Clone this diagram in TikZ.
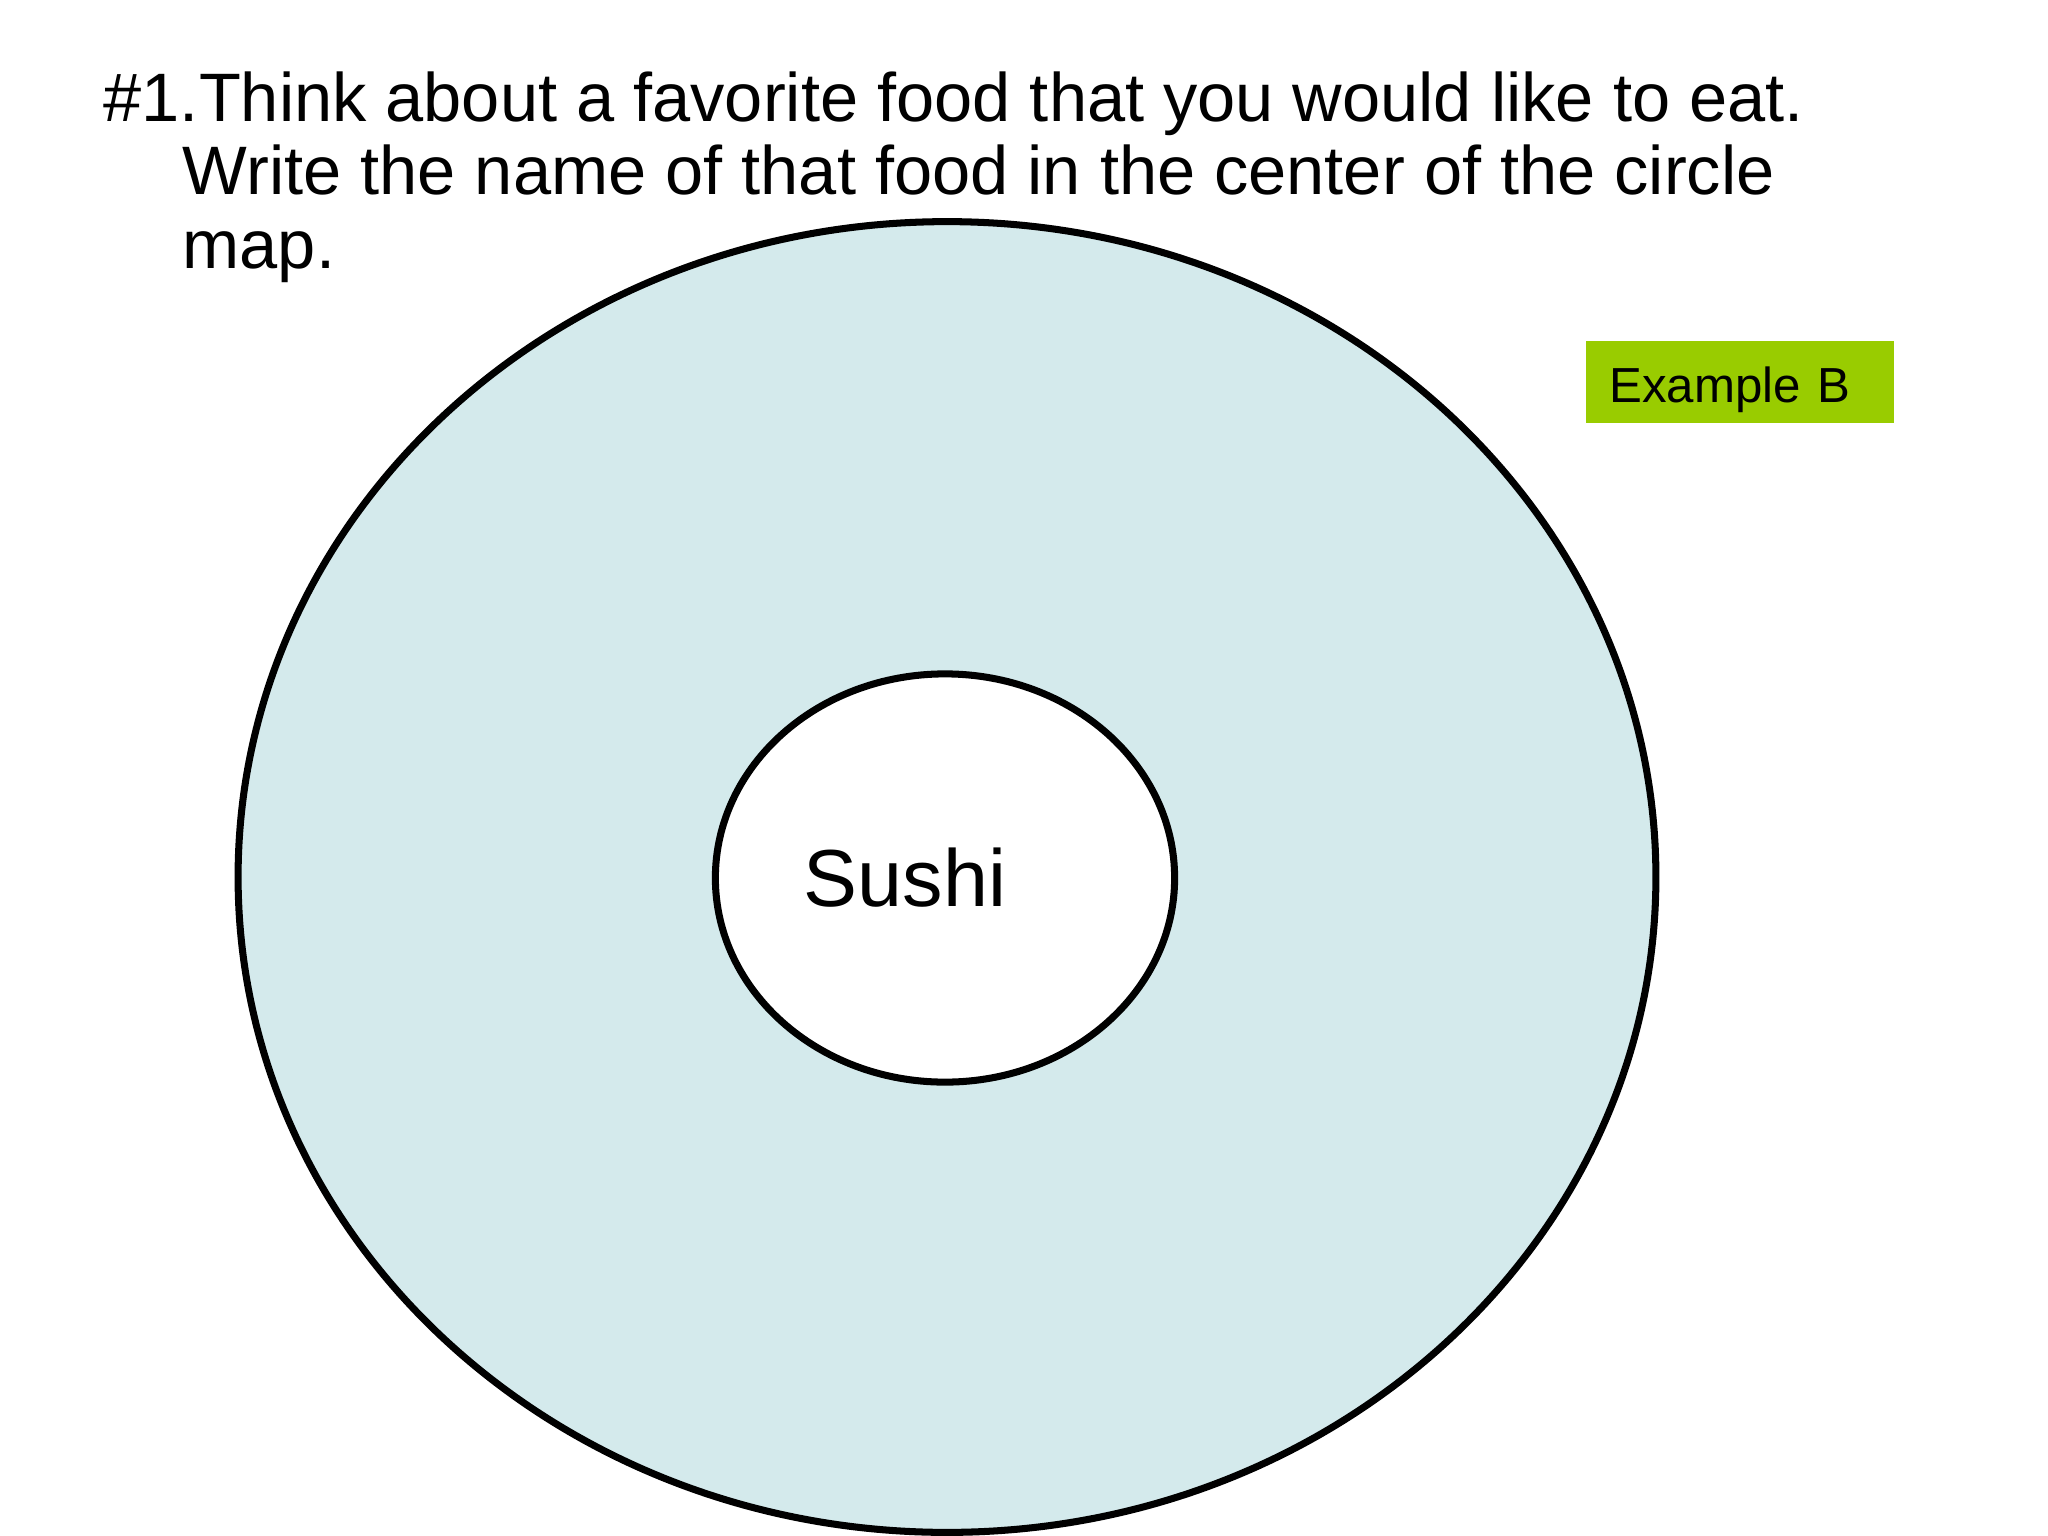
\documentclass[tikz,border=0pt]{standalone}
\usepackage{fontspec}
\setmainfont{Liberation Sans}
\usepackage{xcolor}
\usetikzlibrary{shapes.geometric, positioning}
\definecolor{mapblue}{HTML}{D4EAEC}
\definecolor{taggreen}{HTML}{99CC00}
\tikzstyle{outer} = [ellipse, 
minimum width=14.17cm, 
minimum height=13.10cm, 
draw=black, 
line width=2pt, 
fill=mapblue]
\tikzstyle{inner} = [ellipse, 
minimum width=4.59cm, 
minimum height=4.08cm, 
draw=black, 
line width=2pt, 
fill=white]
\tikzstyle{tag} = [rectangle, 
minimum width=3.07cm, 
minimum height=0.81cm, 
inner xsep=0.23cm, 
text width=2.61cm, 
text height=11.5pt, 
text depth=0pt, 
align=left, 
fill=taggreen, 
font=\fontsize{14}{16}\selectfont]
\tikzstyle{dish} = [inner sep=0pt, 
font=\fontsize{23}{27}\selectfont]
\tikzstyle{task} = [anchor=north west, 
inner sep=0pt, 
align=left, 
font=\fontsize{19.5}{20.9}\selectfont]

\begin{document}
\begin{tikzpicture}[x=0.01cm, y=-0.01cm]
  \useasboundingbox (0,0) rectangle (2048,1536);

  \node (frame) [outer] at (947,877) {};
  \node (center) [inner] at (945,878) {};
  \node (food) [dish] at ([xshift=-0.4cm]center) {Sushi};

  \node (tag) [tag] at (1740,382) {Example B};

  \node (task) [task] at (103,71) {\#1.Think about a favorite food that you would like to eat.\\
    \hspace*{0.79cm}Write the name of that food in the center of the circle\\
    \hspace*{0.79cm}map.};

\end{tikzpicture}
\end{document}
